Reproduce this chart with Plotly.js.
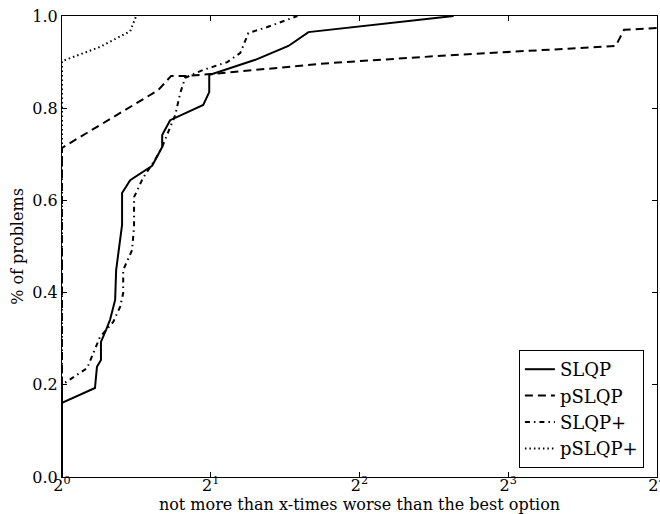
<!DOCTYPE html>
<html>
<head>
<meta charset="utf-8">
<script src="https://cdn.plot.ly/plotly-3.0.1.min.js"></script>
<style>html,body{margin:0;padding:0;background:#fff;}#chart{width:660px;height:514px;}</style>
</head>
<body>
<div id="chart"></div>
<script>
// Performance profile data (x = ratio to best, y = fraction of problems)
const slqpX = [1, 1, 1.166, 1.177, 1.177, 1.199, 1.199, 1.228, 1.251, 1.281, 1.287, 1.323, 1.323, 1.374, 1.522, 1.595, 1.595, 1.655, 1.931, 1.986, 1.986, 2.462, 2.872, 3.153, 6.20];
const slqpY = [0, 0.161, 0.193, 0.228, 0.239, 0.254, 0.293, 0.319, 0.341, 0.384, 0.449, 0.547, 0.616, 0.644, 0.675, 0.716, 0.742, 0.774, 0.807, 0.835, 0.872, 0.905, 0.935, 0.965, 1.0];

const pslqpX = [1, 1, 1.565, 1.663, 1.784, 1.996, 3.49, 6.12, 13.2, 13.72, 16];
const pslqpY = [0, 0.714, 0.839, 0.870, 0.870, 0.874, 0.898, 0.915, 0.935, 0.970, 0.974];

const slqpPlusX = [1, 1, 1.124, 1.166, 1.194, 1.269, 1.311, 1.33, 1.33, 1.386, 1.399, 1.399, 1.459, 1.543, 1.595, 1.640, 1.695, 1.735, 1.775, 1.931, 2.160, 2.296, 2.383, 2.603, 2.995];
const slqpPlusY = [0, 0.2, 0.236, 0.275, 0.304, 0.336, 0.369, 0.399, 0.449, 0.492, 0.542, 0.607, 0.649, 0.688, 0.716, 0.748, 0.785, 0.833, 0.866, 0.883, 0.9, 0.92, 0.963, 0.976, 1.0];

const pslqpPlusX = [1, 1, 1.194, 1.374, 1.413];
const pslqpPlusY = [0, 0.902, 0.933, 0.967, 1.0];

const seriesNames = ['SLQP', 'pSLQP', 'SLQP+', 'pSLQP+'];
const xTickVals = [1, 2, 4, 8, 16];
const xTickText = ['2<sup>0</sup>', '2<sup>1</sup>', '2<sup>2</sup>', '2<sup>3</sup>', '2<sup>4</sup>'];
const yTickVals = [0, 0.2, 0.4, 0.6, 0.8, 1.0];
const yTickText = ['0.0', '0.2', '0.4', '0.6', '0.8', '1.0'];

const font = 'DejaVu Serif, serif';
const traces = [
  {x: slqpX, y: slqpY, name: seriesNames[0], line: {color: '#000', width: 2, dash: 'solid'}},
  {x: pslqpX, y: pslqpY, name: seriesNames[1], line: {color: '#000', width: 2, dash: '8px,5px'}},
  {x: slqpPlusX, y: slqpPlusY, name: seriesNames[2], line: {color: '#000', width: 2, dash: '5px,4px,1.5px,4px'}},
  {x: pslqpPlusX, y: pslqpPlusY, name: seriesNames[3], line: {color: '#000', width: 2, dash: '1.5px,3px'}}
].map(t => Object.assign({type: 'scatter', mode: 'lines'}, t));

const layout = {
  width: 660, height: 514,
  margin: {l: 62, r: 3, t: 16, b: 37},
  paper_bgcolor: '#fff', plot_bgcolor: '#fff',
  font: {family: font, color: '#000', size: 16},
  showlegend: true,
  legend: {
    x: 0.978, y: 0.0195, xanchor: 'right', yanchor: 'bottom',
    bordercolor: '#000', borderwidth: 1, bgcolor: '#fff',
    font: {family: font, size: 18, color: '#000'},
    tracegroupgap: 0
  },
  xaxis: {
    type: 'log', range: [0, Math.log10(16)],
    tickvals: xTickVals, ticktext: xTickText,
    ticks: 'inside', ticklen: 5, tickcolor: '#000',
    showline: true, linecolor: '#000', linewidth: 1, mirror: 'ticks',
    showgrid: false, zeroline: false, ticklabeloverflow: 'allow',
    ticklabelstandoff: -6,
    tickfont: {family: font, size: 16},
    title: {text: 'not more than x-times worse than the best option', font: {family: font, size: 16}, standoff: 0}
  },
  yaxis: {
    range: [0, 1],
    tickvals: yTickVals, ticktext: yTickText,
    ticks: 'inside', ticklen: 5, tickcolor: '#000',
    showline: true, linecolor: '#000', linewidth: 1, mirror: 'ticks',
    showgrid: false, zeroline: false,
    tickfont: {family: font, size: 16},
    title: {text: '% of problems', font: {family: font, size: 16}, standoff: 4}
  }
};

Plotly.newPlot('chart', traces, layout, {displayModeBar: false, staticPlot: true});
</script>
</body>
</html>
